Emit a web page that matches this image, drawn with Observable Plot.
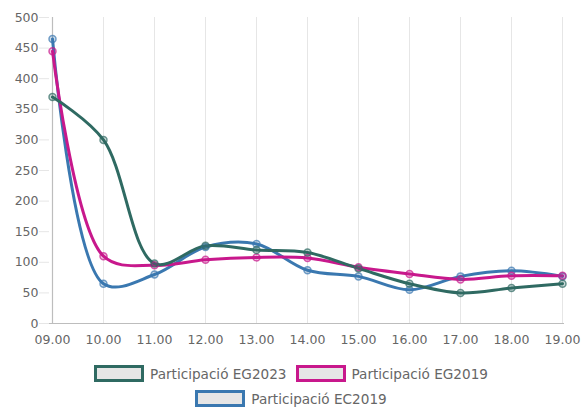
<!DOCTYPE html>
<html><head><meta charset="utf-8">
<script src="https://cdn.jsdelivr.net/npm/d3@7"></script>
<script src="https://cdn.jsdelivr.net/npm/@observablehq/plot@0.6"></script>
<style>
body{margin:0;background:#fff;font-family:"DejaVu Sans",sans-serif;}
#legend{width:582px;display:flex;flex-wrap:wrap;justify-content:center;column-gap:9px;row-gap:8px;font-size:13.6px;color:#666;margin-top:15px;padding:0 60px;box-sizing:border-box}
.item{display:flex;align-items:center;gap:6px;height:17px}
.box{width:44px;height:11px;background:#e6e6e6;border:3px solid}
</style></head><body>
<div id="chart"></div>
<div id="legend"></div>
<script>
const hours = ["09.00","10.00","11.00","12.00","13.00","14.00","15.00","16.00","17.00","18.00","19.00"];
const seriesNames = ["Participació EG2023","Participació EG2019","Participació EC2019"];
const colors = ["#2f6a62","#c8188c","#3a78b0"];
const eg2023 = [370,300,98,127,120,116,90,65,50,58,65];
const eg2019 = [445,110,95,104,108,107,92,81,72,78,78];
const ec2019 = [465,65,80,125,130,87,77,55,77,86,77];
const yTicks = [0,50,100,150,200,250,300,350,400,450,500];

const valuesBySeries = [eg2023, eg2019, ec2019];
const rows = [];
// draw order: EC2019 first, then EG2019, then EG2023 on top
[2,1,0].forEach(si => hours.forEach((h,i) => rows.push({hour:h, value:valuesBySeries[si][i], series:seriesNames[si]})));

const colorScale = {domain: seriesNames, range: colors};
const chart = Plot.plot({
  width: 582, height: 350,
  marginLeft: 49, marginRight: 18, marginTop: 17, marginBottom: 27,
  style: {fontFamily: "DejaVu Sans, sans-serif", fontSize: "12.5px", color: "#666"},
  x: {type: "point", domain: hours, padding: 0},
  y: {domain: [0,500]},
  color: colorScale,
  marks: [
    Plot.ruleY(yTicks.slice(1), {stroke: "#e6e6e6", x1: hours[0], x2: hours[hours.length-1]}),
    Plot.tickX(hours, {x: d=>d, y1: -16, y2: 500, stroke: "#e6e6e6"}),
    Plot.axisY({ticks: yTicks, tickSize: 10, stroke: "#e6e6e6", strokeOpacity: 1, tickPadding: 1, fill: "#666", label: null}),
    Plot.axisX({tickSize: 0, tickPadding: 12, fill: "#666", label: null}),
    Plot.ruleY([0], {stroke: "#bdbdbd", strokeWidth: 1.2}),
    Plot.ruleX([hours[0]], {stroke: "#bdbdbd", strokeWidth: 1.2}),
    Plot.line(rows, {x: "hour", y: "value", z: "series", stroke: "series", strokeWidth: 3, curve: "catmull-rom"}),
    Plot.dot(rows, {x: "hour", y: "value", stroke: "series", r: 3.5, strokeWidth: 1.5, fill: "series", fillOpacity: 0.25, strokeOpacity: 0.7})
  ]
});
document.getElementById("chart").appendChild(chart);

const legend = document.getElementById("legend");
seriesNames.forEach((n,i) => {
  const it = document.createElement("div"); it.className = "item";
  const b = document.createElement("span"); b.className = "box"; b.style.borderColor = colors[i];
  const t = document.createElement("span"); t.textContent = n;
  it.appendChild(b); it.appendChild(t); legend.appendChild(it);
});
</script>
</body></html>
